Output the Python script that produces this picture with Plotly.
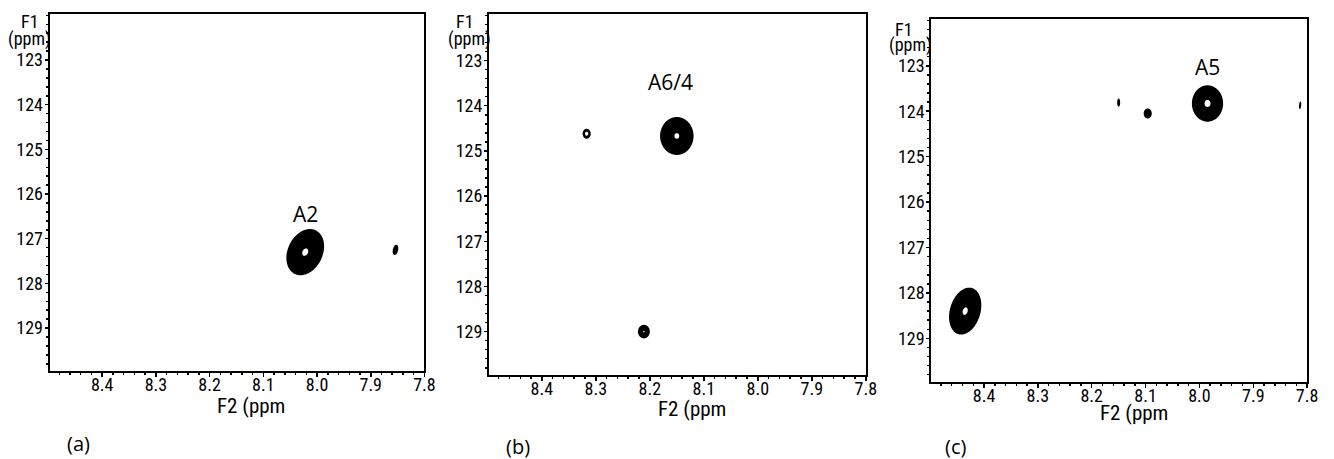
import numpy as np
import plotly.graph_objects as go

# ---------------- data ----------------
f2_ticks = [8.4, 8.3, 8.2, 8.1, 8.0, 7.9, 7.8]
f2_ticktext = ["8.4", "8.3", "8.2", "8.1", "8.0", "7.9", "7.8"]
f1_ticks = [123, 124, 125, 126, 127, 128, 129]
f1_ticktext = ["123", "124", "125", "126", "127", "128", "129"]

# Panel (a) cross peaks
a_f2 = [8.022, 7.854]
a_f1 = [127.30, 127.25]
a_hw2 = [0.034, 0.0050]
a_hw1 = [0.50, 0.11]
a_tilt = [0.25, 0.3]
a_amp = [1.03, 0.9]

# Panel (b) cross peaks
b_f2 = [8.150, 8.317, 8.211]
b_f1 = [124.67, 124.62, 129.00]
b_hw2 = [0.031, 0.0075, 0.011]
b_hw1 = [0.42, 0.11, 0.15]
b_tilt = [0.0, 0.0, 0.0]
b_amp = [1.02, 1.5, 1.0]

# Panel (c) cross peaks
c_f2 = [7.985, 8.435, 8.150, 8.096, 7.813]
c_f1 = [123.83, 128.40, 123.81, 124.05, 123.87]
c_hw2 = [0.029, 0.029, 0.0028, 0.0075, 0.0020]
c_hw1 = [0.40, 0.50, 0.09, 0.11, 0.08]
c_tilt = [0.0, 0.25, 0.0, 0.0, 0.3]
c_amp = [1.06, 1.03, 0.9, 0.9, 0.9]

peak_labels = ["A2", "A6/4", "A5"]
peak_label_f2 = [8.022, 8.161, 7.985]
peak_label_f1 = [126.45, 123.47, 123.02]
panel_labels = ["(a)", "(b)", "(c)"]

# ---------------- layout geometry ----------------
W, H = 1334, 459
boxes = [  # left, right, top, bottom in pixels
    (50, 428, 14, 371),
    (493, 873, 14, 375),
    (939, 1318, 19, 382),
]


def px(x):
    return x / W


def py(y):
    return 1 - y / H


x_range = [8.498, 7.8]
y_range = [129.96, 121.97]
LOW, HIGH = 0.1, 0.97

narrow = "Roboto Condensed"
regular = "Open Sans"

fig = go.Figure()

panels = [
    (a_f2, a_f1, a_hw2, a_hw1, a_tilt, a_amp),
    (b_f2, b_f1, b_hw2, b_hw1, b_tilt, b_amp),
    (c_f2, c_f1, c_hw2, c_hw1, c_tilt, c_amp),
]

cscale = [[0, "white"], [0.33, "white"], [0.34, "black"], [0.66, "black"],
          [0.67, "white"], [1, "white"]]

for p, (f2, f1, hw2, hw1, tilt, amp) in enumerate(panels):
    xa = "x" if p == 0 else f"x{p+1}"
    ya = "y" if p == 0 else f"y{p+1}"
    for cx, cy, hx, hy, rho, A in zip(f2, f1, hw2, hw1, tilt, amp):
        r_edge = np.sqrt(2 * np.log(A / LOW))
        sx, sy = hx / r_edge, hy / r_edge
        xs = np.linspace(cx - 1.5 * hx, cx + 1.5 * hx, 100)
        ys = np.linspace(cy - 1.5 * hy, cy + 1.5 * hy, 100)
        X, Y = np.meshgrid(xs, ys)
        u = (X - cx) / sx
        v = (Y - cy) / sy
        q = (u ** 2 - 2 * rho * u * v + v ** 2)
        Z = A * np.exp(-0.5 * q)
        fig.add_trace(go.Contour(
            x=np.round(xs, 5), y=np.round(ys, 4), z=np.round(Z, 4),
            autocontour=False,
            contours=dict(start=LOW, end=HIGH, size=HIGH - LOW, coloring="fill"),
            colorscale=cscale, showscale=False, line=dict(width=0),
            hoverinfo="skip", xaxis=xa, yaxis=ya,
        ))

layout = dict(width=W, height=H, margin=dict(l=0, r=0, t=0, b=0),
              paper_bgcolor="white", plot_bgcolor="white", showlegend=False)

annotations = []
for p, (l, r, t, b) in enumerate(boxes):
    sfx = "" if p == 0 else str(p + 1)
    layout["xaxis" + sfx] = dict(
        domain=[px(l), px(r)], anchor="y" + sfx, range=x_range,
        tickmode="array", tickvals=f2_ticks, ticktext=f2_ticktext,
        showline=True, linewidth=2, linecolor="black", mirror=True,
        ticks="outside", ticklen=4, tickwidth=1.5, tickcolor="black",
        minor=dict(dtick=0.02, tick0=7.8, ticks="outside", ticklen=2,
                   tickwidth=1.5, tickcolor="black", showgrid=False),
        showgrid=False, zeroline=False, ticklabelstandoff=-8,
        tickfont=dict(family=narrow, size=18, color="black"),
    )
    layout["yaxis" + sfx] = dict(
        domain=[py(b), py(t)], anchor="x" + sfx, range=y_range,
        tickmode="array", tickvals=f1_ticks, ticktext=f1_ticktext,
        showline=True, linewidth=2, linecolor="black", mirror=True,
        ticks="outside", ticklen=3, tickwidth=1.5, tickcolor="black",
        minor=dict(dtick=0.2, tick0=122, ticks="outside", ticklen=2,
                   tickwidth=1.5, tickcolor="black", showgrid=False),
        showgrid=False, zeroline=False, ticklabelstandoff=-2,
        tickfont=dict(family=narrow, size=18, color="black"),
    )
    annotations.append(dict(
        x=peak_label_f2[p], y=peak_label_f1[p], xref="x" + sfx, yref="y" + sfx,
        text=peak_labels[p], showarrow=False,
        font=dict(family=regular, size=21, color="black"),
        xanchor="center", yanchor="middle"))

# axis titles and panel labels (pixel positions)
f2_title_pos = [(253, 406), (698, 409), (1143, 413)]
f1_title_pos = [((30, 22), (30, 39)), ((469, 22), (473, 39)), ((912, 30), (918, 45))]
panel_label_pos = [(79, 443), (522, 446), (963, 446)]

for p in range(3):
    x, y = f2_title_pos[p]
    annotations.append(dict(x=px(x), y=py(y), xref="paper", yref="paper",
                            text="F2 (ppm", showarrow=False,
                            font=dict(family=narrow, size=21, color="black"),
                            xanchor="center", yanchor="middle"))
    (x1, y1), (x2, y2) = f1_title_pos[p]
    annotations.append(dict(x=px(x1), y=py(y1), xref="paper", yref="paper",
                            text="F1", showarrow=False,
                            font=dict(family=narrow, size=18, color="black"),
                            xanchor="center", yanchor="middle"))
    annotations.append(dict(x=px(x2), y=py(y2), xref="paper", yref="paper",
                            text="(ppm)", showarrow=False,
                            font=dict(family=narrow, size=18, color="black"),
                            xanchor="center", yanchor="middle"))
    x, y = panel_label_pos[p]
    annotations.append(dict(x=px(x), y=py(y), xref="paper", yref="paper",
                            text=panel_labels[p], showarrow=False,
                            font=dict(family=regular, size=20, color="black"),
                            xanchor="center", yanchor="middle"))

layout["annotations"] = annotations
fig.update_layout(**layout)
fig.write_html(
    "out.html",
    config={"staticPlot": True, "displayModeBar": False},
    post_script="document.body.style.margin='0';"
                "document.documentElement.style.overflow='hidden';",
)
